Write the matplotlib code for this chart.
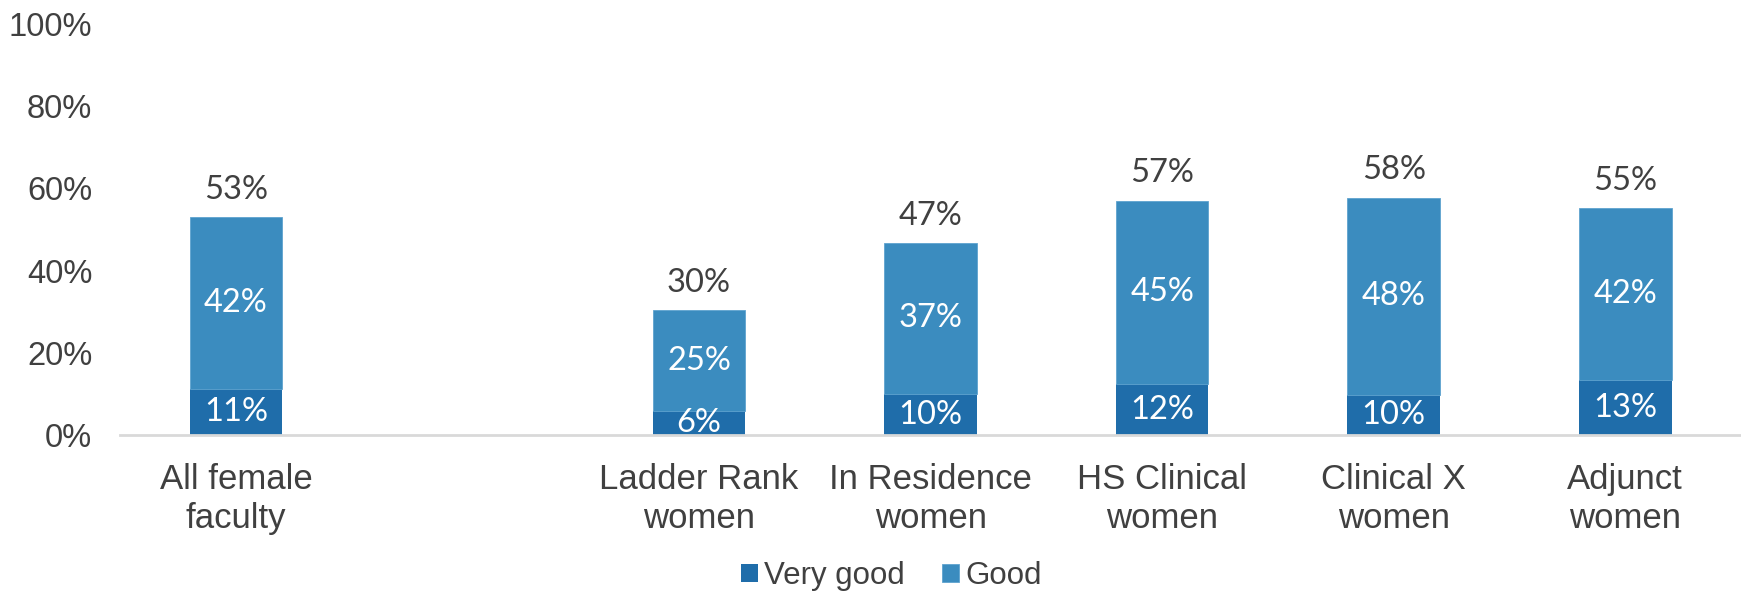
import matplotlib.pyplot as plt
import numpy as np

categories = ["All female\nfaculty", "", "Ladder Rank\nwomen", "In Residence\nwomen",
              "HS Clinical\nwomen", "Clinical X\nwomen", "Adjunct\nwomen"]
very_good = [11.2, np.nan, 5.8, 10.0, 12.4, 9.8, 13.4]
good = [41.8, np.nan, 24.6, 36.7, 44.6, 47.9, 41.8]

c_very_good = "#1F6DAA"
c_good = "#3B8CBF"
text_col = "#404040"

plt.rcParams["font.family"] = ["Liberation Sans", "DejaVu Sans"]

fig = plt.figure(figsize=(17.41, 5.92), dpi=100)
ax = fig.add_axes([0.069, 0.265, 0.931, 0.695])

x = np.arange(len(categories))
vg = np.array(very_good)
gd = np.array(good)
ax.bar(x, vg, width=0.4, color=c_very_good, label="Very good")
ax.bar(x, gd, width=0.4, bottom=vg, color=c_good, label="Good",
       edgecolor="#5FA3CF", linewidth=0.6)

for xi, v, g in zip(x, vg, gd):
    if np.isnan(v):
        continue
    ax.text(xi, v / 2, f"{round(v):.0f}%", ha="center", va="center",
            color="white", fontsize=23.5, family=["Lato", "DejaVu Sans"])
    ax.text(xi, v + g / 2, f"{round(g):.0f}%", ha="center", va="center",
            color="white", fontsize=23.5, family=["Lato", "DejaVu Sans"])
    ax.text(xi, v + g + 3, f"{round(v + g):.0f}%", ha="center", va="bottom",
            color=text_col, fontsize=23.5, family=["Lato", "DejaVu Sans"])

ax.set_xlim(-0.5, len(categories) - 0.5)
ax.set_ylim(0, 100)
ax.set_yticks(range(0, 101, 20))
ax.set_yticklabels([f"{t}%" for t in range(0, 101, 20)])
ax.set_xticks(x)
ax.set_xticklabels(categories, linespacing=1.25)
ax.tick_params(axis="y", length=0, pad=20, labelsize=23.5, labelcolor=text_col)
ax.tick_params(axis="x", length=0, pad=20, labelsize=25, labelcolor=text_col)

for s in ["top", "right", "left"]:
    ax.spines[s].set_visible(False)
ax.spines["bottom"].set_color("#D9D9D9")
ax.spines["bottom"].set_linewidth(2)

fig.legend(loc="center", bbox_to_anchor=(0.512, 0.027), ncol=2, frameon=False,
           fontsize=22.5, labelcolor=text_col, handlelength=0.55, handleheight=0.55,
           handletextpad=0.2, columnspacing=1.2)

fig.savefig("out.png", dpi=100)
